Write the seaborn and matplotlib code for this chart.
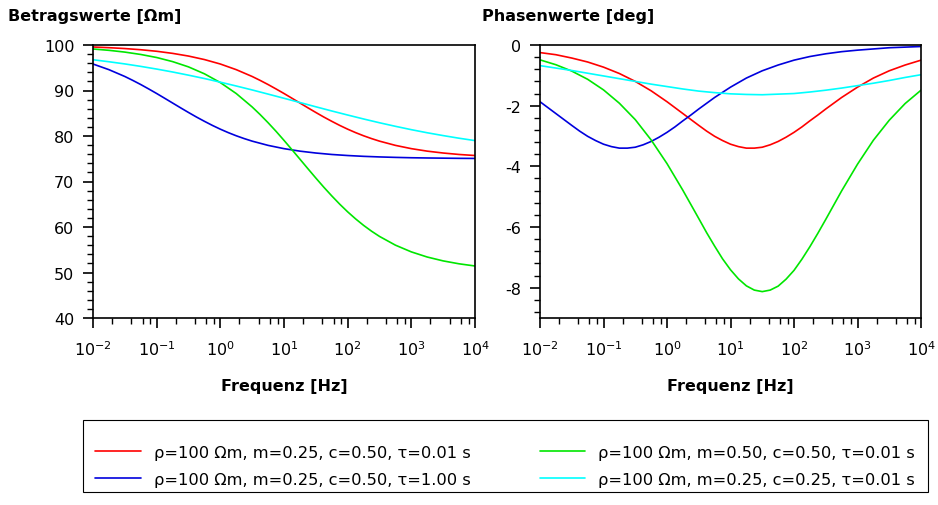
import numpy as np
import pandas as pd
import matplotlib
matplotlib.use("Agg")
import matplotlib.pyplot as plt
import seaborn as sns
from matplotlib.ticker import LogLocator, MultipleLocator, NullFormatter
from matplotlib.lines import Line2D
from matplotlib.patches import Rectangle

# ---- data ----
# log10 of frequency [Hz] at which values were read
logf_red_green = [-2.0, -1.75, -1.5, -1.25, -1.0, -0.75, -0.5, -0.25, 0.0, 0.25, 0.5,
                  0.625, 0.75, 0.875, 1.0, 1.125, 1.25, 1.375, 1.5, 1.625, 1.75, 1.875,
                  2.0, 2.125, 2.25, 2.375, 2.5, 2.75, 3.0, 3.25, 3.5, 3.75, 4.0]
logf_blue = [-2.0, -1.75, -1.5, -1.375, -1.25, -1.125, -1.0, -0.875, -0.75, -0.625, -0.5,
             -0.375, -0.25, -0.125, 0.0, 0.125, 0.25, 0.375, 0.5, 0.75, 1.0, 1.25, 1.5,
             1.75, 2.0, 2.25, 2.5, 2.75, 3.0, 3.25, 3.5, 3.75, 4.0]
logf_cyan = [-2.0, -1.75, -1.5, -1.25, -1.0, -0.75, -0.5, -0.25, 0.0, 0.25, 0.5, 0.75,
             1.0, 1.25, 1.5, 1.75, 2.0, 2.25, 2.5, 2.75, 3.0, 3.25, 3.5, 3.75, 4.0]

labels = ["\u03c1=100 \u03a9m, m=0.25, c=0.50, \u03c4=0.01 s",
          "\u03c1=100 \u03a9m, m=0.25, c=0.50, \u03c4=1.00 s",
          "\u03c1=100 \u03a9m, m=0.50, c=0.50, \u03c4=0.01 s",
          "\u03c1=100 \u03a9m, m=0.25, c=0.25, \u03c4=0.01 s"]
colors = ["#FF0000", "#0000DD", "#00E600", "#00FFFF"]

mag_red = [99.56, 99.41, 99.22, 98.96, 98.62, 98.16, 97.57, 96.80, 95.82, 94.58, 93.08,
           92.22, 91.31, 90.34, 89.34, 88.30, 87.25, 86.20, 85.17, 84.17, 83.23, 82.33,
           81.50, 80.74, 80.05, 79.43, 78.87, 77.94, 77.22, 76.67, 76.26, 75.94, 75.71]
mag_blue = [95.82, 94.58, 93.08, 92.22, 91.31, 90.34, 89.34, 88.30, 87.25, 86.20, 85.17,
            84.17, 83.23, 82.33, 81.50, 80.74, 80.05, 79.43, 78.87, 77.94, 77.22, 76.67,
            76.26, 75.94, 75.71, 75.53, 75.40, 75.30, 75.22, 75.17, 75.13, 75.09, 75.07]
mag_green = [99.12, 98.83, 98.44, 97.92, 97.25, 96.35, 95.19, 93.67, 91.74, 89.33, 86.38,
             84.71, 82.92, 81.03, 79.04, 76.99, 74.91, 72.82, 70.76, 68.75, 66.84, 65.02,
             63.33, 61.78, 60.36, 59.08, 57.93, 56.01, 54.53, 53.40, 52.55, 51.91, 51.43]
mag_cyan = [96.76, 96.32, 95.84, 95.30, 94.71, 94.07, 93.37, 92.63, 91.83, 90.99, 90.12, 89.21,
            88.29, 87.36, 86.42, 85.50, 84.61, 83.74, 82.91, 82.13, 81.39, 80.71, 80.09, 79.51, 78.99]

pha_red = [-0.25, -0.32, -0.43, -0.56, -0.73, -0.94, -1.20, -1.51, -1.87, -2.26, -2.65,
           -2.84, -3.01, -3.15, -3.27, -3.35, -3.40, -3.40, -3.37, -3.29, -3.18, -3.04,
           -2.88, -2.70, -2.50, -2.31, -2.11, -1.73, -1.39, -1.09, -0.85, -0.66, -0.50]
pha_blue = [-1.87, -2.26, -2.65, -2.84, -3.01, -3.15, -3.27, -3.35, -3.40, -3.40, -3.37,
            -3.29, -3.18, -3.04, -2.88, -2.70, -2.50, -2.31, -2.11, -1.73, -1.39, -1.09,
            -0.85, -0.66, -0.50, -0.38, -0.29, -0.22, -0.17, -0.13, -0.09, -0.07, -0.05]
pha_green = [-0.49, -0.65, -0.86, -1.13, -1.48, -1.92, -2.46, -3.13, -3.91, -4.79, -5.72,
             -6.19, -6.63, -7.05, -7.41, -7.71, -7.94, -8.08, -8.13, -8.08, -7.95, -7.72,
             -7.43, -7.06, -6.65, -6.21, -5.75, -4.81, -3.93, -3.14, -2.48, -1.93, -1.49]
pha_cyan = [-0.68, -0.76, -0.84, -0.93, -1.02, -1.11, -1.20, -1.29, -1.37, -1.45, -1.52, -1.57,
            -1.61, -1.63, -1.64, -1.62, -1.60, -1.55, -1.49, -1.42, -1.34, -1.26, -1.17, -1.07, -0.98]

xticks = [1e-2, 1e-1, 1e0, 1e1, 1e2, 1e3, 1e4]
xticklabels = ["10$^{-2}$", "10$^{-1}$", "10$^{0}$", "10$^{1}$", "10$^{2}$", "10$^{3}$", "10$^{4}$"]

# ---- build long tables ----
logfs = [logf_red_green, logf_blue, logf_red_green, logf_cyan]
mags = [mag_red, mag_blue, mag_green, mag_cyan]
phas = [pha_red, pha_blue, pha_green, pha_cyan]
df_mag = pd.concat([pd.DataFrame({"f": 10.0 ** np.array(lf), "v": m, "s": l})
                    for lf, m, l in zip(logfs, mags, labels)])
df_pha = pd.concat([pd.DataFrame({"f": 10.0 ** np.array(lf), "v": p, "s": l})
                    for lf, p, l in zip(logfs, phas, labels)])
palette = dict(zip(labels, colors))

sns.set_theme(style="ticks")
plt.rcParams["font.family"] = ["DejaVu Sans"]
plt.rcParams["axes.unicode_minus"] = False
plt.rcParams["mathtext.default"] = "regular"
for k in ("text.color", "axes.labelcolor", "xtick.color", "ytick.color", "axes.edgecolor"):
    plt.rcParams[k] = "black"

fig = plt.figure(figsize=(9.38, 5.06), dpi=100)
W, H = 938.0, 506.0
ax1 = fig.add_axes([93 / W, 1 - 319 / H, 382 / W, 273 / H])
ax2 = fig.add_axes([540 / W, 1 - 319 / H, 381 / W, 273 / H])

LW = 1.2
sns.lineplot(data=df_mag, x="f", y="v", hue="s", palette=palette, hue_order=labels,
             ax=ax1, legend=False, lw=LW, estimator=None, sort=False)
sns.lineplot(data=df_pha, x="f", y="v", hue="s", palette=palette, hue_order=labels,
             ax=ax2, legend=False, lw=LW, estimator=None, sort=False)

for ax in (ax1, ax2):
    ax.set_xscale("log")
    ax.set_xlim(1e-2, 1e4)
    ax.set_xticks(xticks)
    ax.set_xticklabels(xticklabels)
    ax.xaxis.set_minor_locator(LogLocator(base=10, subs=[2, 4, 6, 8], numticks=20))
    ax.xaxis.set_minor_formatter(NullFormatter())
    for sp in ax.spines.values():
        sp.set_visible(True)
        sp.set_color("black")
        sp.set_linewidth(1.2)
    ax.tick_params(which="major", direction="out", length=7.5, width=1.2, color="black",
                   labelcolor="black", labelsize=11.5, pad=6, top=False, right=False)
    ax.tick_params(axis="x", which="major", pad=8)
    ax.tick_params(which="minor", direction="out", length=4, width=1.0, color="black",
                   top=False, right=False)
    ax.set_xlabel("Frequenz [Hz]", fontsize=11.5, fontweight="bold", labelpad=14,
                  color="black")
    ax.set_ylabel("")
    ax.grid(False)

ax1.set_ylim(40, 100)
ax1.yaxis.set_major_locator(MultipleLocator(10))
ax1.yaxis.set_minor_locator(MultipleLocator(2))
ax2.set_ylim(-9, 0)
ax2.yaxis.set_major_locator(MultipleLocator(2))
ax2.yaxis.set_minor_locator(MultipleLocator(0.4))

fig.text(8 / W, 1 - 17 / H, "Betragswerte [\u03a9m]", fontsize=11.5, fontweight="bold",
         ha="left", va="center", color="black")
fig.text(482 / W, 1 - 17 / H, "Phasenwerte [deg]", fontsize=11.5, fontweight="bold",
         ha="left", va="center", color="black")

# legend
handles = [Line2D([], [], color=c, lw=LW) for c in colors]
leg = fig.legend(handles, labels, ncol=2, mode="expand", loc="center",
                 bbox_to_anchor=(95 / W, 1 - 494 / H, 820 / W, 54 / H),
                 frameon=False, borderpad=0, fontsize=11.7, handlelength=2.8,
                 handletextpad=0.8, labelspacing=0.75, borderaxespad=0)
for t in leg.get_texts():
    t.set_color("black")
fig.add_artist(Rectangle((83 / W, 1 - 493 / H), 845 / W, 72 / H, transform=fig.transFigure,
                         fill=False, edgecolor="black", lw=0.8))

fig.savefig("out.png", dpi=100)
